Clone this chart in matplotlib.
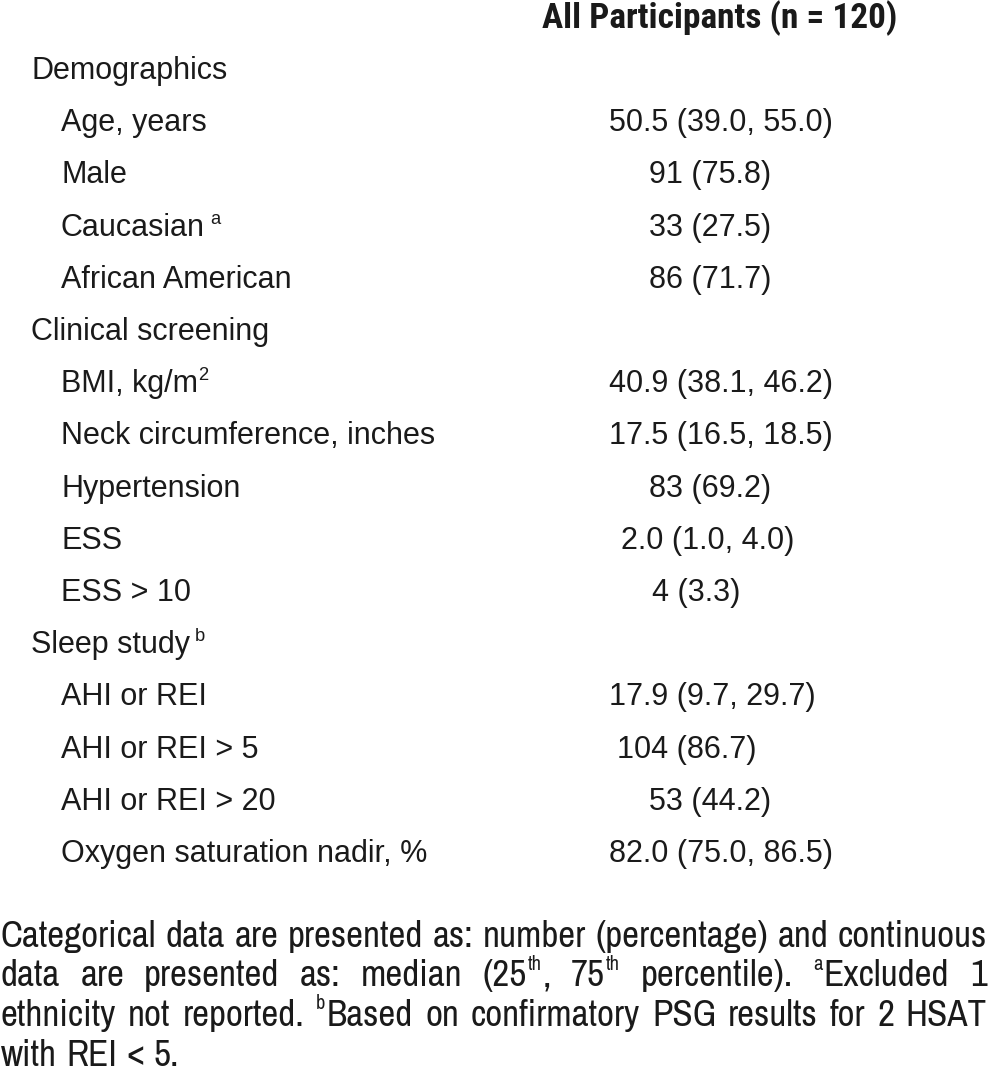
import matplotlib
matplotlib.use("Agg")
import matplotlib.pyplot as plt

header = "All Participants (n = 120)"

# row labels, their superscript marks and whether the row is a section heading
labels = ["Demographics", "Age, years", "Male", "Caucasian", "African American",
          "Clinical screening", "BMI, kg/m", "Neck circumference, inches",
          "Hypertension", "ESS", "ESS > 10", "Sleep study", "AHI or REI",
          "AHI or REI > 5", "AHI or REI > 20", "Oxygen saturation nadir, %"]
label_sup = ["", "", "", "a", "", "", "2", "", "", "", "", "b", "", "", "", ""]
is_section = [1, 0, 0, 0, 0, 1, 0, 0, 0, 0, 0, 1, 0, 0, 0, 0]
values = ["", "50.5 (39.0, 55.0)", "91 (75.8)", "33 (27.5)", "86 (71.7)", "",
          "40.9 (38.1, 46.2)", "17.5 (16.5, 18.5)", "83 (69.2)", "2.0 (1.0, 4.0)",
          "4 (3.3)", "", "17.9 (9.7, 29.7)", "104 (86.7)", "53 (44.2)",
          "82.0 (75.0, 86.5)"]

# footnote lines, each word is a list of (text, superscript?) runs
note_lines = [
    [[("Categorical", 0)], [("data", 0)], [("are", 0)], [("presented", 0)], [("as:", 0)],
     [("number", 0)], [("(percentage)", 0)], [("and", 0)], [("continuous", 0)]],
    [[("data", 0)], [("are", 0)], [("presented", 0)], [("as:", 0)], [("median", 0)],
     [("(25", 0), ("th", 1), (",", 0)], [("75", 0), ("th", 1)], [("percentile).", 0)],
     [("a", 1), ("Excluded", 0)], [("1", 0)]],
    [[("ethnicity", 0)], [("not", 0)], [("reported.", 0)], [("b", 1), ("Based", 0)],
     [("on", 0)], [("confirmatory", 0)], [("PSG", 0)], [("results", 0)], [("for", 0)],
     [("2", 0)], [("HSAT", 0)]],
    [[("with", 0)], [("REI", 0)], [("<", 0)], [("5.", 0)]],
]

W, H = 990, 1074
fig = plt.figure(figsize=(W / 100, H / 100), dpi=100)
ax = fig.add_axes([0, 0, 1, 1])
ax.set_xlim(0, W)
ax.set_ylim(H, 0)
ax.axis("off")
renderer = fig.canvas.get_renderer()

table_font = ["Liberation Sans", "DejaVu Sans"]
narrow_font = ["Liberation Sans Narrow", "Archivo Narrow", "Roboto Condensed",
               "Liberation Sans", "DejaVu Sans"]
bold_narrow = ["Liberation Sans Narrow", "Roboto Condensed", "IBM Plex Sans Condensed",
               "Fira Sans Condensed", "Liberation Sans", "DejaVu Sans"]
ink = "#1a1a1a"


def width_of(t):
    return t.get_window_extent(renderer).width


def draw_runs(x, y, runs, size, family):
    # one word made of normal / superscript pieces, returns the pieces and the width
    objs = []
    cx = x
    for txt, sup in runs:
        if sup:
            t = ax.text(cx + 1, y - size * 0.62, txt, fontsize=size * 0.55,
                        family=family, color=ink, va="baseline", ha="left")
            cx += width_of(t) + 2
        else:
            t = ax.text(cx, y, txt, fontsize=size, family=family, color=ink,
                        va="baseline", ha="left")
            cx += width_of(t)
        objs.append(t)
    return objs, cx - x


def draw_with_sup(x, y, text, sup, size, family, gap=4):
    t = ax.text(x, y, text, fontsize=size, family=family, color=ink,
                va="baseline", ha="left")
    if sup:
        ax.text(x + width_of(t) + gap, y - size * 0.55, sup, fontsize=size * 0.6,
                family=family, color=ink, va="baseline", ha="left")


# header, sized to span the same width as the reference
ht = ax.text(542, 28, header, fontsize=22, family=bold_narrow, weight="bold",
             color=ink, va="baseline", ha="left")
ht.set_fontsize(22 * 355 / width_of(ht))

row_base = 79
row_step = 52.2
value_x = [0, 609, 649, 649, 649, 0, 609, 609, 649, 621, 652, 0, 609, 617, 649, 609]
for i, lab in enumerate(labels):
    y = row_base + i * row_step
    x = 31 if is_section[i] else 61
    gap = 0 if label_sup[i] == "2" else 5
    draw_with_sup(x, y, lab, label_sup[i], 22, table_font, gap=gap)
    if values[i]:
        ax.text(value_x[i], y, values[i], fontsize=22, family=table_font, color=ink,
                va="baseline", ha="left")

# justified footnote; font size chosen so the first line has normal word spacing
note_base = 947
note_step = 39.5
left, right = 1, 987
space_em = 0.25
probe = [draw_runs(0, 0, w, 25, narrow_font) for w in note_lines[0]]
natural = sum(d[1] for d in probe) + (len(probe) - 1) * space_em * 25 * 100 / 72
for objs, _ in probe:
    for o in objs:
        o.remove()
note_size = min(30, 25 * (right - left) / natural)

for li, words in enumerate(note_lines):
    y = note_base + li * note_step
    drawn = [draw_runs(0, y, w, note_size, narrow_font) for w in words]
    total = sum(d[1] for d in drawn)
    if li < len(note_lines) - 1:
        space = (right - left - total) / (len(words) - 1)
    else:
        space = space_em * note_size * 100 / 72
    cx = left
    for objs, wd in drawn:
        ox = objs[0].get_position()[0]
        for o in objs:
            px, py = o.get_position()
            o.set_position((px - ox + cx, py))
        cx += wd + space

fig.savefig("out.png", dpi=100)
